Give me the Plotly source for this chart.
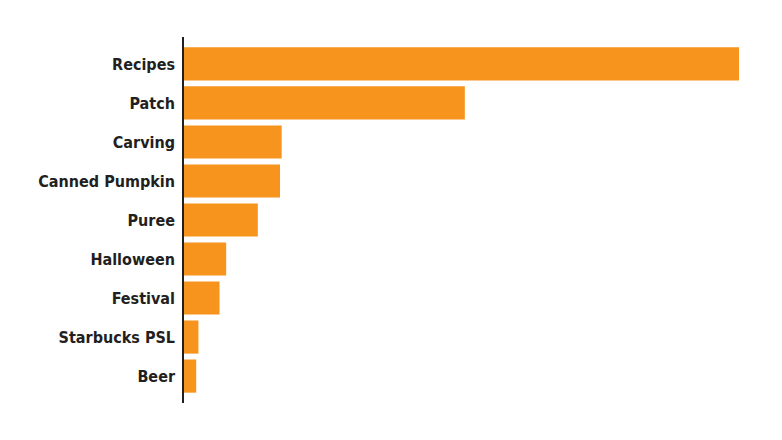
import plotly.graph_objects as go

categories = ["Recipes", "Patch", "Carving", "Canned Pumpkin", "Puree",
              "Halloween", "Festival", "Starbucks PSL", "Beer"]
values = [100, 50.6, 17.6, 17.3, 13.3, 7.6, 6.4, 2.6, 2.2]

FONT = "Liberation Sans Narrow, DejaVu Sans Condensed, sans-serif"

fig = go.Figure(go.Bar(
    x=values, y=categories, orientation="h",
    marker=dict(color="#F7941E", line=dict(width=0)),
    hoverinfo="x+y",
))

fig.update_layout(
    width=782, height=440,
    margin=dict(l=176, r=48, t=29, b=45, pad=0, autoexpand=False),
    paper_bgcolor="white", plot_bgcolor="white",
    bargap=0.15,
    showlegend=False,
    font=dict(family=FONT, size=16, color="#231F20"),
)
fig.update_xaxes(range=[0, 100 * 558 / 555], showgrid=False, zeroline=False,
                 showticklabels=False, showline=False, fixedrange=True,
                 automargin=False)
fig.update_yaxes(type="category", categoryorder="array", categoryarray=categories,
                 range=[8.69, -0.69], showgrid=False, zeroline=False,
                 showline=True, linecolor="#231F20", linewidth=1.6,
                 ticks="", ticklabelstandoff=4, automargin=False,
                 tickfont=dict(family=FONT, size=16, color="#231F20", weight="bold"))

fig.write_html("out.html")
